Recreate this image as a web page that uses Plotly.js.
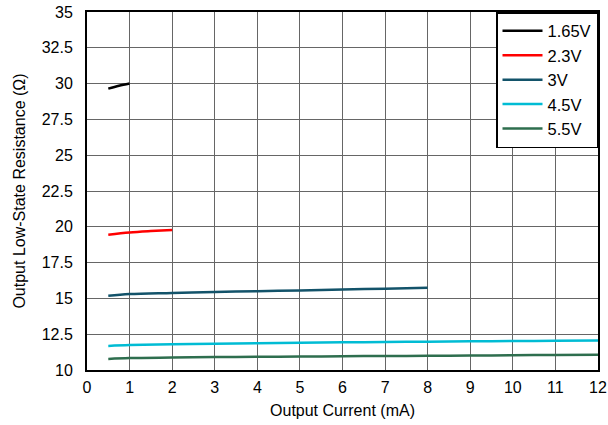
<!DOCTYPE html>
<html><head><meta charset="utf-8">
<script src="https://cdn.plot.ly/plotly-3.0.1.min.js"></script>
<style>body{margin:0;padding:0;background:#fff}#chart{width:608px;height:425px}</style>
</head><body><div id="chart"></div>
<script>
const seriesNames = ["1.65V", "2.3V", "3V", "4.5V", "5.5V"];
const seriesColors = ["#000000", "#ff0000", "#13536a", "#00bcd4", "#2e6e4e"];
const x165 = [0.5, 0.75, 1];
const y165 = [29.65, 29.85, 30.0];
const x23 = [0.5, 1, 1.5, 2];
const y23 = [19.45, 19.6, 19.7, 19.78];
const x3 = [0.5, 1, 2, 3, 4, 5, 6, 7, 8];
const y3 = [15.18, 15.3, 15.38, 15.45, 15.5, 15.56, 15.62, 15.68, 15.75];
const x45 = [0.5, 1, 2, 3, 4, 5, 6, 7, 8, 9, 10, 11, 12];
const y45 = [11.68, 11.74, 11.8, 11.84, 11.87, 11.9, 11.93, 11.95, 11.98, 12.0, 12.02, 12.04, 12.06];
const x55 = [0.5, 1, 2, 3, 4, 5, 6, 7, 8, 9, 10, 11, 12];
const y55 = [10.77, 10.83, 10.87, 10.9, 10.92, 10.94, 10.96, 10.98, 10.99, 11.01, 11.03, 11.05, 11.07];
const xTicks = [0,1,2,3,4,5,6,7,8,9,10,11,12];
const yTicks = [10,12.5,15,17.5,20,22.5,25,27.5,30,32.5,35];
const yTickText = ["10","12.5","15","17.5","20","22.5","25","27.5","30","32.5","35"];

const xs = [x165, x23, x3, x45, x55];
const ys = [y165, y23, y3, y45, y55];
const traces = xs.map((x, i) => ({
  x: x, y: ys[i], type: 'scatter', mode: 'lines', name: seriesNames[i],
  line: {color: seriesColors[i], width: 2.5, shape: 'spline'}
}));

const font = {family: 'Liberation Sans, Arial, sans-serif', size: 16, color: '#000'};
const layout = {
  width: 608, height: 425,
  margin: {l: 87, r: 10, t: 12, b: 55},
  paper_bgcolor: '#fff', plot_bgcolor: '#fff',
  font: font,
  showlegend: true,
  legend: {x: 1, y: 1, xanchor: 'right', yanchor: 'top', bgcolor: '#fff',
    bordercolor: '#000', borderwidth: 1.5, font: {family: font.family, size: 16.5, color: '#000'},
    tracegroupgap: 0, itemwidth: 40},
  xaxis: {range: [0, 12], tickvals: xTicks, ticks: 'outside', ticklen: 2, tickcolor: 'rgba(0,0,0,0)',
    showgrid: true, gridcolor: '#666', gridwidth: 1,
    showline: true, mirror: true, linecolor: '#000', linewidth: 2, zeroline: false, automargin: false,
    title: {text: 'Output Current (mA)', font: font, standoff: 10}, tickfont: font, fixedrange: true},
  yaxis: {range: [10, 35], tickvals: yTicks, ticktext: yTickText, ticks: 'outside', ticklen: 9, tickcolor: 'rgba(0,0,0,0)',
    showgrid: true, gridcolor: '#666', gridwidth: 1,
    showline: true, mirror: true, linecolor: '#000', linewidth: 2, zeroline: false, automargin: false,
    title: {text: 'Output Low-State Resistance (Ω)', font: font, standoff: 12}, tickfont: font, fixedrange: true}
};
Plotly.newPlot('chart', traces, layout, {displayModeBar: false, staticPlot: true});
</script></body></html>
